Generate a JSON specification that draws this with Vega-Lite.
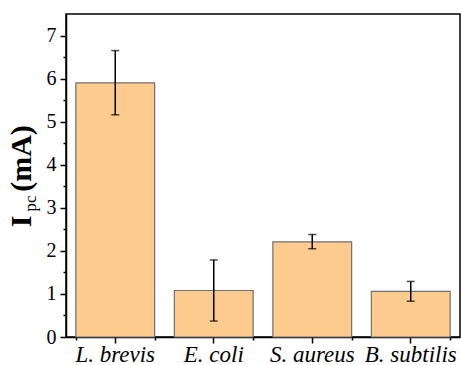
{
  "$schema": "https://vega.github.io/schema/vega-lite/v6.json",
  "width": 394,
  "height": 323,
  "autosize": {"type": "none"},
  "padding": {"left": 66, "top": 14, "right": 1, "bottom": 28},
  "background": "white",
  "config": {
    "view": {"stroke": "#000000", "strokeWidth": 1.5},
    "font": "Liberation Serif",
    "axis": {"labelColor": "#000000", "tickColor": "#000000", "domainColor": "#000000", "titleColor": "#000000", "domainWidth": 1.5, "tickWidth": 1.5, "grid": false, "labelFont": "Liberation Serif", "titleFont": "Liberation Serif"}
  },
  "data": {"values": [
    {"strain": "L. brevis", "mean": 5.9, "lo": 5.16, "hi": 6.65},
    {"strain": "E. coli", "mean": 1.08, "lo": 0.37, "hi": 1.79},
    {"strain": "S. aureus", "mean": 2.21, "lo": 2.05, "hi": 2.38},
    {"strain": "B. subtilis", "mean": 1.06, "lo": 0.83, "hi": 1.29}
  ]},
  "resolve": {"axis": {"x": "independent", "y": "independent"}},
  "layer": [
    {
      "mark": {"type": "bar", "fill": "#FDCB8E", "stroke": "#707070", "strokeWidth": 1.2},
      "encoding": {
        "x": {"field": "strain", "type": "nominal", "sort": null,
              "scale": {"paddingInner": 0.2, "paddingOuter": 0.1},
              "axis": {"orient": "bottom", "title": null, "labelAngle": 0, "labelFont": "Liberation Serif", "labelFontStyle": "italic", "labelFontSize": 23, "tickSize": 6, "labelPadding": 0}},
        "y": {"field": "mean", "type": "quantitative",
              "scale": {"domain": [0, 7.5], "nice": false, "zero": true},
              "axis": {"orient": "left", "values": [0, 1, 2, 3, 4, 5, 6, 7], "tickSize": 6, "labelFont": "Liberation Serif", "labelFontSize": 20, "labelPadding": 4,
                       "title": "I", "titleFont": "Liberation Serif", "titleFontSize": 30, "titleFontWeight": "bold", "titleAngle": 270, "titleAlign": "center", "titleBaseline": "alphabetic", "titleX": -36, "titleY": 207}}
      }
    },
    {
      "mark": {"type": "rule", "stroke": "#000000", "strokeWidth": 1.5},
      "encoding": {
        "x": {"field": "strain", "type": "nominal", "sort": null,
              "axis": {"orient": "bottom", "title": null, "labels": false, "domain": false, "tickBand": "extent", "tickSize": 3}},
        "y": {"field": "lo", "type": "quantitative",
              "axis": {"orient": "left", "values": [0.5, 1.5, 2.5, 3.5, 4.5, 5.5, 6.5], "tickSize": 3, "labels": false, "domain": false,
                       "title": "pc", "titleFont": "Liberation Serif", "titleFontSize": 17, "titleFontWeight": "normal", "titleAngle": 270, "titleAlign": "center", "titleBaseline": "alphabetic", "titleX": -31, "titleY": 189}},
        "y2": {"field": "hi"}
      }
    },
    {
      "mark": {"type": "tick", "color": "#000000", "size": 8, "thickness": 1.5},
      "encoding": {
        "x": {"field": "strain", "type": "nominal", "sort": null, "axis": null},
        "y": {"field": "hi", "type": "quantitative",
              "axis": {"orient": "left", "ticks": false, "labels": false, "domain": false,
                       "title": "(mA)", "titleFont": "Liberation Serif", "titleFontSize": 30, "titleFontWeight": "bold", "titleAngle": 270, "titleAlign": "center", "titleBaseline": "alphabetic", "titleX": -36, "titleY": 144}}
      }
    },
    {
      "mark": {"type": "tick", "color": "#000000", "size": 8, "thickness": 1.5},
      "encoding": {
        "x": {"field": "strain", "type": "nominal", "sort": null, "axis": null},
        "y": {"field": "lo", "type": "quantitative", "axis": null}
      }
    }
  ]
}
